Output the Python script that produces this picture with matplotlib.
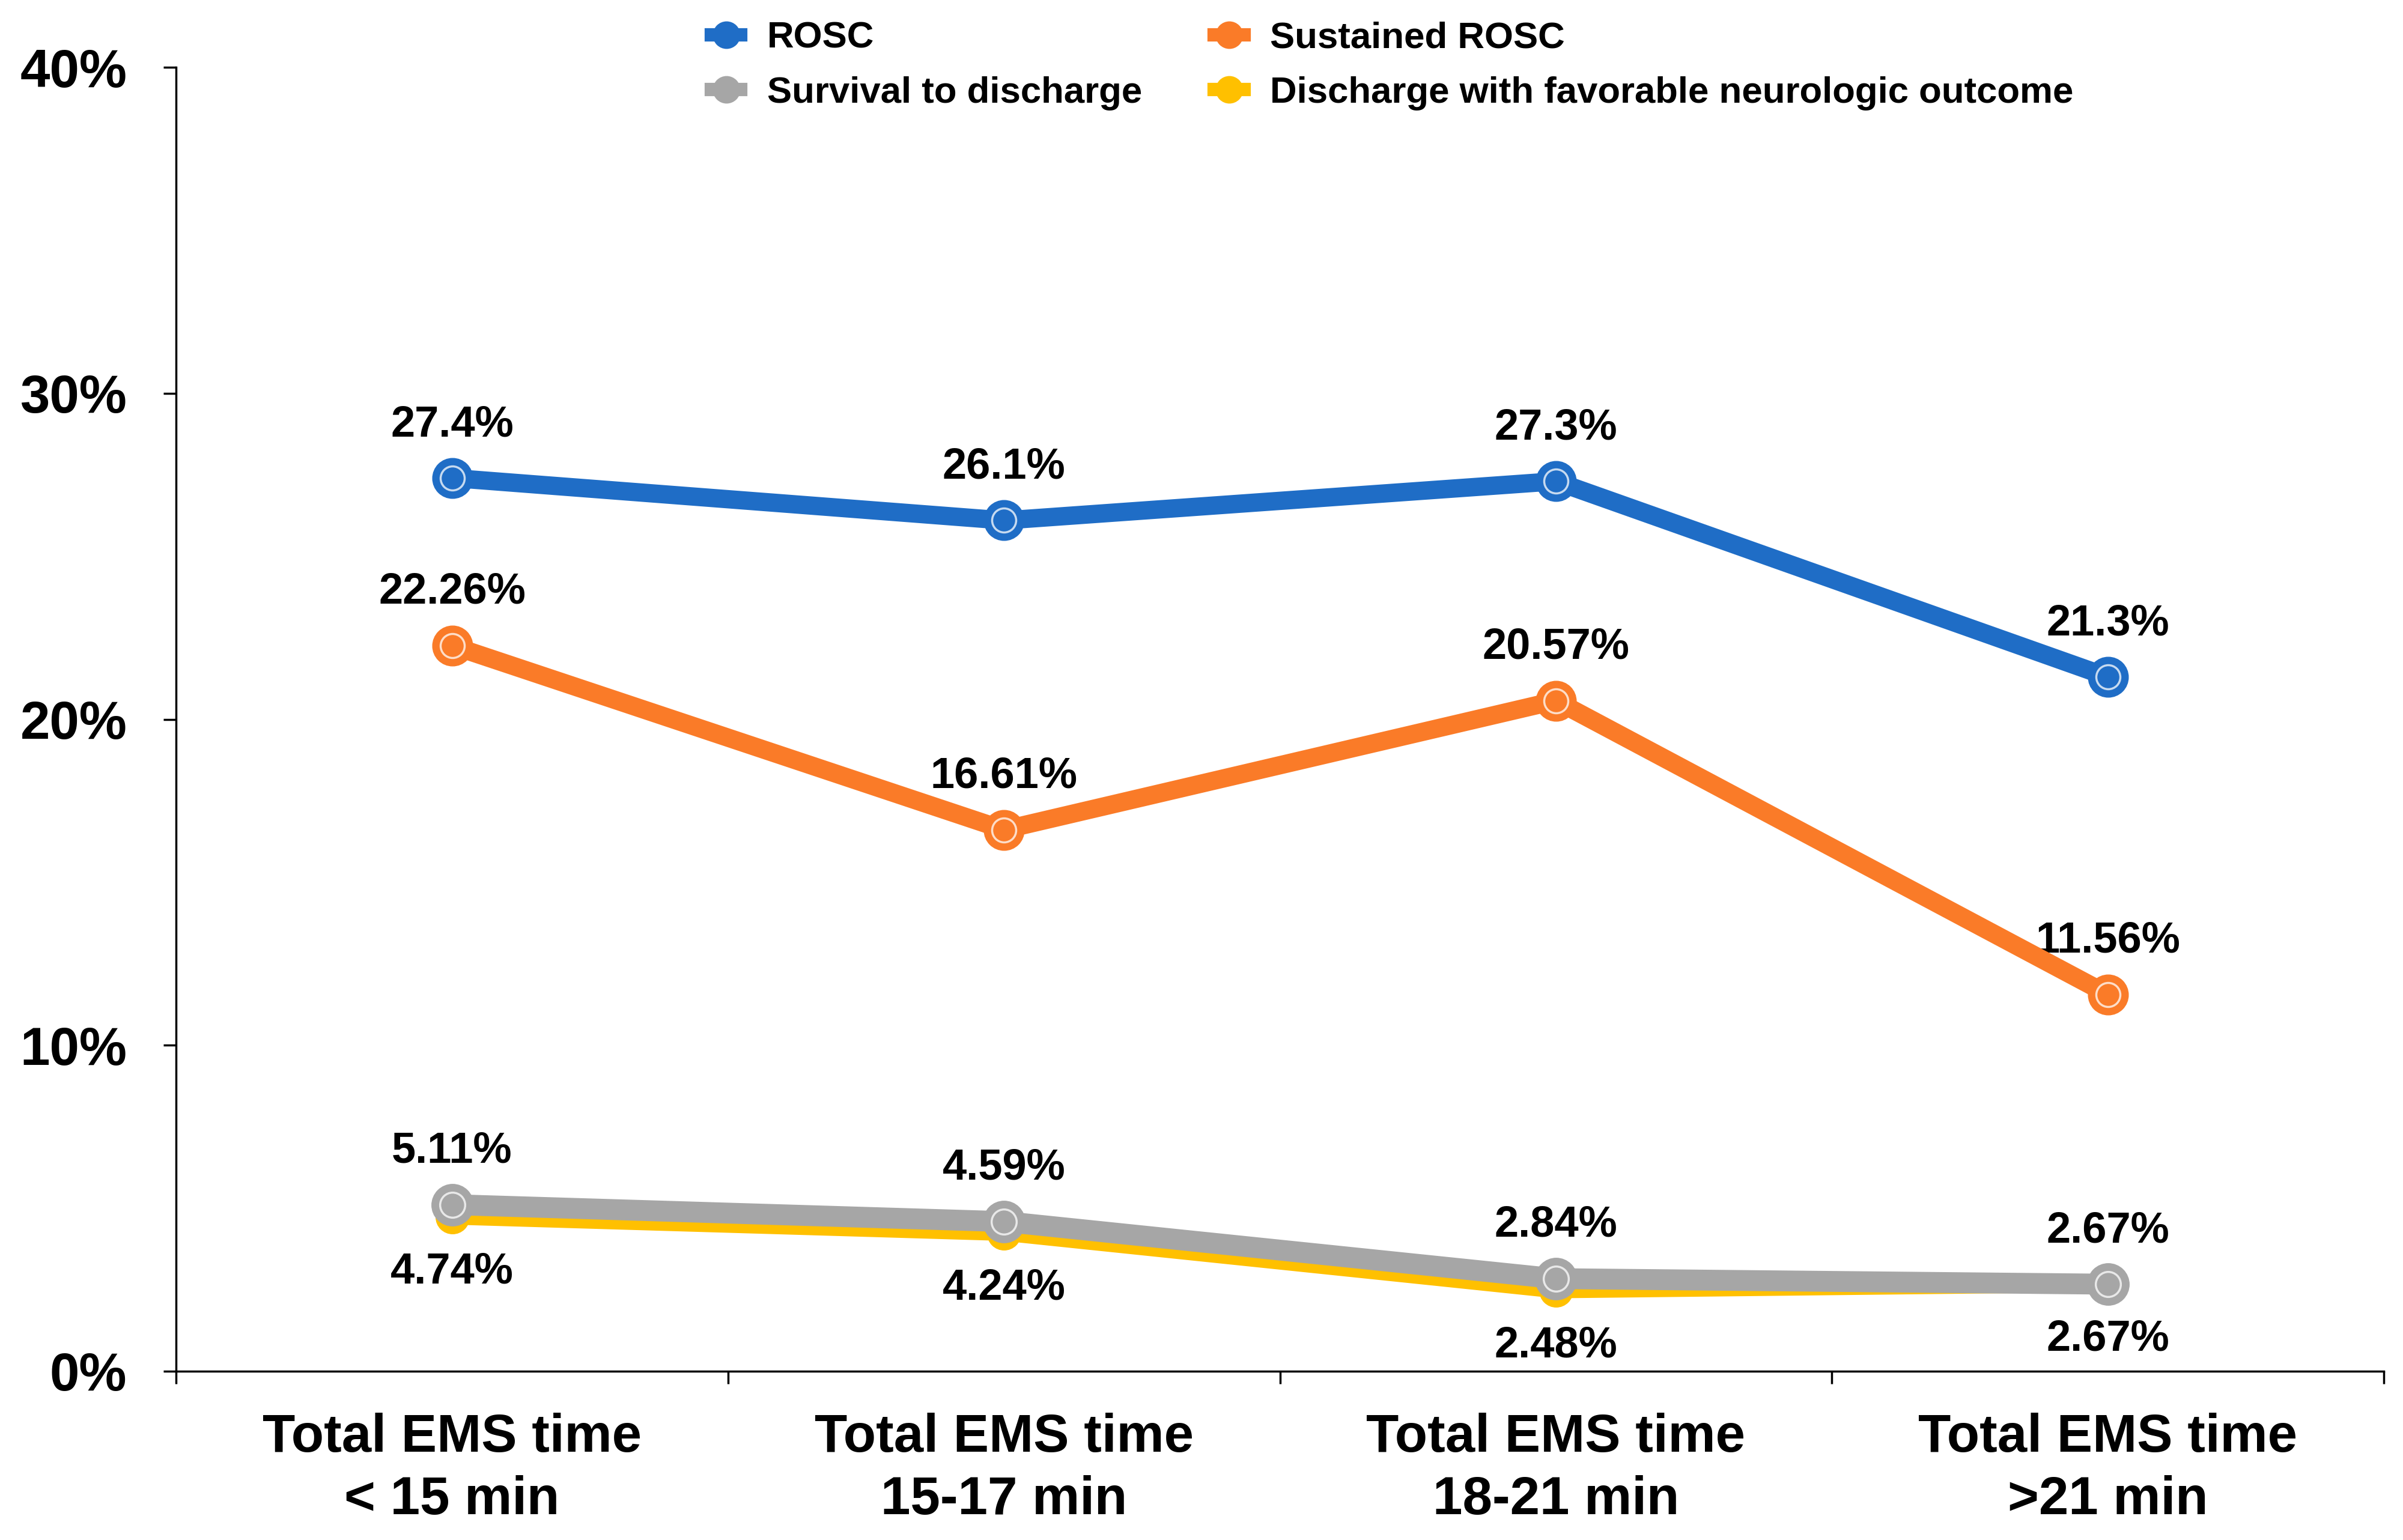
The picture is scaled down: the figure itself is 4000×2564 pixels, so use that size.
import numpy as np
import matplotlib
matplotlib.use("Agg")
import matplotlib.pyplot as plt
from matplotlib.ticker import FixedLocator, FuncFormatter

plt.rcParams['font.family'] = ['Liberation Sans', 'DejaVu Sans']
plt.rcParams['font.weight'] = 'bold'

# data
categories = ['Total EMS time\n< 15 min', 'Total EMS time\n15-17 min',
              'Total EMS time\n18-21 min', 'Total EMS time\n>21 min']
rosc = [27.4, 26.1, 27.3, 21.3]
sustained = [22.26, 16.61, 20.57, 11.56]
survival = [5.11, 4.59, 2.84, 2.67]
favorable = [4.74, 4.24, 2.48, 2.67]

rosc_lbl = ['27.4%', '26.1%', '27.3%', '21.3%']
sustained_lbl = ['22.26%', '16.61%', '20.57%', '11.56%']
survival_lbl = ['5.11%', '4.59%', '2.84%', '2.67%']
favorable_lbl = ['4.74%', '4.24%', '2.48%', '2.67%']

c_blue = '#1F6DC6'
c_orange = '#FA7B28'
c_gray = '#A6A6A6'
c_yellow = '#FFC000'

fig = plt.figure(figsize=(40, 25.64), dpi=100)
ax = fig.add_axes([0.0733, 0.1096, 0.9187, 0.8467])

x = np.arange(len(categories))

def series(vals, color, label, z, lw=22, ms=48, ring=True):
    ax.plot(x, vals, color=color, lw=lw, solid_capstyle='round', zorder=z,
            marker='o', markersize=ms, markerfacecolor=color, markeredgecolor=color)
    if ring:
        ax.plot(x, vals, ls='none', marker='o', markersize=ms * 0.6, markerfacecolor='none',
                markeredgecolor='white', markeredgewidth=2.5, zorder=z + 0.5, alpha=0.75)
    return ax.plot([], [], color=color, lw=16, marker='o', markersize=32,
                   label=label)[0]

h1 = series(rosc, c_blue, 'ROSC', 5)
h2 = series(sustained, c_orange, 'Sustained ROSC', 4)
h4 = series(favorable, c_yellow, 'Discharge with favorable neurologic outcome', 2,
            lw=19, ms=40, ring=False)
h3 = series(survival, c_gray, 'Survival to discharge', 3, lw=25, ms=50)

def labels(vals, texts, dy):
    for xi, v, t in zip(x, vals, texts):
        ax.annotate(t, (xi, v), xytext=(0, dy), textcoords='offset points',
                    ha='center', va='center', fontsize=52, fontweight='bold')

labels(rosc, rosc_lbl, 64)
labels(sustained, sustained_lbl, 64)
labels(survival, survival_lbl, 64)
labels(favorable, favorable_lbl, -66)

ax.set_xlim(-0.5, 3.5)
ax.set_ylim(0, 40)
ax.set_yticks([0, 10, 20, 30, 40])
ax.yaxis.set_major_formatter(FuncFormatter(lambda v, p: f'{v:.0f}%'))
ax.xaxis.set_major_locator(FixedLocator([-0.5, 0.5, 1.5, 2.5, 3.5]))
ax.xaxis.set_major_formatter(FuncFormatter(lambda v, p: ''))
ax.xaxis.set_minor_locator(FixedLocator(list(x)))
ax.set_xticklabels(categories, minor=True, fontsize=64, fontweight='bold',
                   linespacing=1.3)
ax.tick_params(axis='x', which='minor', length=0, pad=50)
ax.tick_params(axis='x', which='major', direction='out', length=15, width=2.5)
ax.tick_params(axis='y', direction='out', length=15, width=2.5, labelsize=64, pad=44)
for lab in ax.get_yticklabels():
    lab.set_fontweight('bold')

for s in ['top', 'right']:
    ax.spines[s].set_visible(False)
for s in ['left', 'bottom']:
    ax.spines[s].set_linewidth(2.5)

fig.legend(handles=[h1, h3, h2, h4], ncol=2, loc='upper left',
           bbox_to_anchor=(0.296, 0.986), frameon=False,
           handlelength=0.8, handletextpad=0.7, columnspacing=1.95,
           labelspacing=0.55, borderpad=0, borderaxespad=0,
           prop={'weight': 'bold', 'size': 44.5})

fig.savefig('out.png', dpi=100)
